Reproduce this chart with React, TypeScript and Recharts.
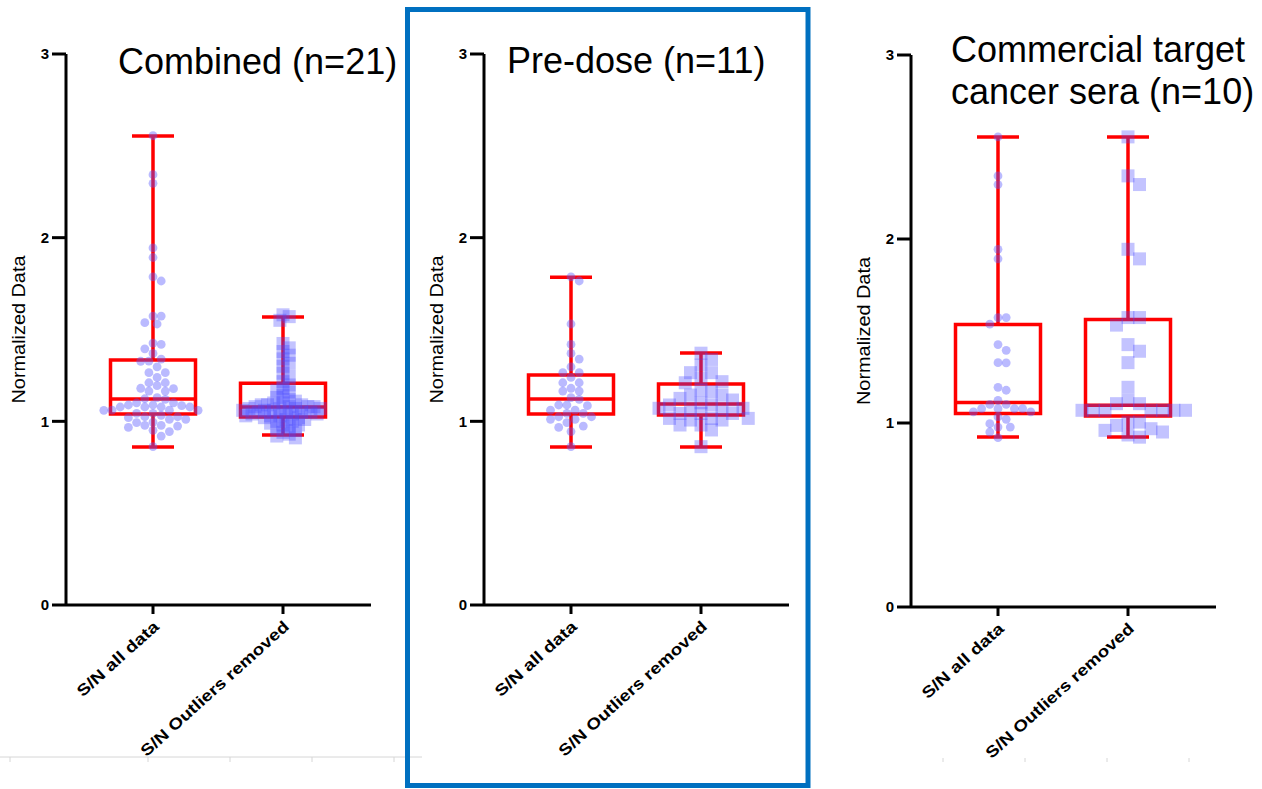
import React from 'react';
import { ScatterChart, Scatter, XAxis, YAxis, ReferenceArea, ReferenceLine } from 'recharts';

// ---------- data ----------
const categories = ['S/N all data', 'S/N Outliers removed'];
const categoryPositions = [1, 2];
const yTicks = [0, 1, 2, 3];
const yAxisTitle = 'Normalized Data';

const preDoseAllData = [
  1.787, 1.764, 1.53, 1.419, 1.37, 1.339, 1.297, 1.265, 1.265, 1.239, 1.21, 1.21, 1.18, 1.165, 1.165,
  1.129, 1.12, 1.089, 1.089, 1.085, 1.061, 1.061, 1.043, 1.043, 1.025, 1.025, 1.011, 1.011, 0.993,
  0.974, 0.967, 0.944, 0.862,
];
const preDoseOutliersRemoved = [
  1.371, 1.337, 1.306, 1.265, 1.265, 1.234, 1.216, 1.21, 1.17, 1.161, 1.143, 1.143, 1.125, 1.116,
  1.101, 1.089, 1.089, 1.071, 1.071, 1.071, 1.071, 1.043, 1.043, 1.043, 1.016, 1.016, 1.016, 1.007,
  1.007, 0.98, 0.98, 0.953, 0.862,
];
const commercialAllData = [
  2.555, 2.343, 2.296, 1.944, 1.892, 1.573, 1.573, 1.537, 1.426, 1.395, 1.328, 1.327, 1.194, 1.178,
  1.123, 1.101, 1.101, 1.078, 1.078, 1.078, 1.078, 1.06, 1.06, 1.033, 1.02, 0.996, 0.978, 0.978,
  0.951, 0.92,
];
const commercialOutliersRemoved = [
  2.555, 2.343, 2.296, 1.944, 1.892, 1.573, 1.573, 1.532, 1.426, 1.39, 1.328, 1.194, 1.123, 1.105,
  1.105, 1.069, 1.069, 1.069, 1.069, 1.069, 1.069, 1.069, 1.005, 1.005, 0.987, 0.969, 0.96, 0.951,
  0.935, 0.923,
];
const combinedAllData = [...preDoseAllData, ...commercialAllData];
const combinedOutliersRemoved = [
  1.58, 1.57, 1.55, 1.424, 1.4, 1.38, 1.36, 1.34, 1.316, 1.3, 1.262, 1.245, 1.216, 1.198, 1.18, 1.17,
  1.16, 1.14, 1.13, 1.12, 1.11, 1.1, 1.1, 1.09, 1.09, 1.09, 1.08, 1.08, 1.08, 1.08, 1.07, 1.07, 1.07,
  1.07, 1.06, 1.06, 1.06, 1.05, 1.05, 1.05, 1.05, 1.04, 1.04, 1.04, 1.03, 1.03, 1.03, 1.02, 1.02,
  1.01, 1.01, 1.0, 1.0, 0.99, 0.98, 0.98, 0.97, 0.96, 0.95, 0.94, 0.93, 0.92, 0.91,
];

// box statistics: [min, q1, median, q3, max]
const combinedStatsAll = [0.86, 1.04, 1.121, 1.334, 2.553];
const combinedStatsRemoved = [0.925, 1.023, 1.078, 1.208, 1.568];
const preDoseStatsAll = [0.86, 1.04, 1.121, 1.252, 1.785];
const preDoseStatsRemoved = [0.86, 1.034, 1.094, 1.203, 1.372];
const commercialStatsAll = [0.924, 1.051, 1.111, 1.535, 2.555];
const commercialStatsRemoved = [0.924, 1.038, 1.096, 1.562, 2.555];

const combinedTitle = ['Combined (n=21)'];
const preDoseTitle = ['Pre-dose (n=11)'];
const commercialTitle = ['Commercial target', 'cancer sera (n=10)'];

// ---------- layout / style ----------
const FONT = '"Liberation Sans", Arial, Helvetica, sans-serif';
const RED = '#ff0000';
const CHART_W = 420;
const CHART_H = 789;
const Y_AXIS_W = 66;
const PLOT_W = 305;
const PX_PER_CAT = 130;
const X_DOMAIN = [1 - 87 / PX_PER_CAT, 2 + 88 / PX_PER_CAT];
const BOX_HALF = 42.5 / PX_PER_CAT;
const CAP_HALF = 21 / PX_PER_CAT;

function swarm(values: number[], center: number, dist: number, step: number, pxY: number) {
  const sorted = [...values].sort((a, b) => b - a);
  const placed: { ox: number; py: number }[] = [];
  const out: { x: number; y: number }[] = [];
  for (const v of sorted) {
    const py = v * pxY;
    let chosen = 0;
    for (let k = 0; k < 80; k++) {
      const off = k === 0 ? 0 : (k % 2 === 1 ? 1 : -1) * Math.ceil(k / 2) * step;
      const ok = placed.every((p) => Math.hypot(p.ox - off, p.py - py) >= dist - 1e-6);
      if (ok) {
        chosen = off;
        break;
      }
    }
    placed.push({ ox: chosen, py });
    out.push({ x: center + chosen / PX_PER_CAT, y: v });
  }
  return out;
}

const CircleShape = (props: any) => {
  const { cx, cy } = props;
  if (cx == null || cy == null) return null;
  return <circle cx={cx} cy={cy} r={4.4} fill="#5a5aff" fillOpacity={0.42} />;
};

const makeSquareShape = (size: number) => (props: any) => {
  const { cx, cy } = props;
  if (cx == null || cy == null) return null;
  return <rect x={cx - size / 2} y={cy - size / 2} width={size} height={size} fill="#4848ff" fillOpacity={0.33} />;
};

const CategoryTick = (props: any) => {
  const { x, y, payload } = props;
  const idx = categoryPositions.indexOf(payload.value);
  const label = categories[idx] ?? '';
  const len = idx === 0 ? 104 : 193;
  return (
    <g transform={`translate(${x + 7},${y + 12})`}>
      <text
        x={0}
        y={0}
        transform="rotate(-42)"
        textAnchor="end"
        style={{ fontSize: '16px', fontWeight: 700, fontFamily: FONT }}
        fill="#000"
        textLength={len}
        lengthAdjust="spacingAndGlyphs"
      >
        {label}
      </text>
    </g>
  );
};

const ValueTick = (props: any) => {
  const { x, y, payload } = props;
  return (
    <text
      x={x - 1}
      y={y}
      dy="0.36em"
      textAnchor="end"
      style={{ fontSize: '15px', fontWeight: 700, fontFamily: FONT }}
      fill="#000"
    >
      {payload.value}
    </text>
  );
};

function BoxElements(center: number, stats: number[], key: string) {
  const [mn, q1, med, q3, mx] = stats;
  const common = { stroke: RED, strokeWidth: 3.5, ifOverflow: 'visible' as const };
  return [
    <ReferenceLine key={key + 'wt'} segment={[{ x: center, y: q3 }, { x: center, y: mx }]} {...common} />,
    <ReferenceLine key={key + 'wb'} segment={[{ x: center, y: mn }, { x: center, y: q1 }]} {...common} />,
    <ReferenceLine key={key + 'ct'} segment={[{ x: center - CAP_HALF, y: mx }, { x: center + CAP_HALF, y: mx }]} {...common} />,
    <ReferenceLine key={key + 'cb'} segment={[{ x: center - CAP_HALF, y: mn }, { x: center + CAP_HALF, y: mn }]} {...common} />,
    <ReferenceArea
      key={key + 'box'}
      x1={center - BOX_HALF}
      x2={center + BOX_HALF}
      y1={q1}
      y2={q3}
      stroke={RED}
      strokeWidth={3.5}
      fill="none"
      fillOpacity={0}
      ifOverflow="visible"
    />,
    <ReferenceLine key={key + 'md'} segment={[{ x: center - BOX_HALF, y: med }, { x: center + BOX_HALF, y: med }]} {...common} />,
  ];
}

type PanelProps = {
  left: number;
  plotTop: number;
  plotBottom: number;
  all: number[];
  removed: number[];
  statsAll: number[];
  statsRemoved: number[];
  squareDist: number;
  squareSize: number;
};

function Panel({ left, plotTop, plotBottom, all, removed, statsAll, statsRemoved, squareDist, squareSize }: PanelProps) {
  const pxPerY = (plotBottom - plotTop) / 3;
  const circles = swarm(all, 1, 8.2, 4.1, pxPerY);
  const squares = swarm(removed, 2, squareDist, squareDist / 2, pxPerY);
  const SquareShape = makeSquareShape(squareSize);
  const midY = (plotTop + plotBottom) / 2;
  const yLabel = () => (
    <text
      x={19}
      y={midY}
      transform={`rotate(-90, 19, ${midY})`}
      textAnchor="middle"
      dominantBaseline="central"
      style={{ fontSize: '17.5px', fontFamily: FONT }}
      fill="#000"
      textLength={148}
      lengthAdjust="spacingAndGlyphs"
    >
      {yAxisTitle}
    </text>
  );
  return (
    <div style={{ position: 'absolute', left, top: 0 }}>
      <ScatterChart
        width={CHART_W}
        height={CHART_H}
        margin={{ top: plotTop, right: CHART_W - Y_AXIS_W - PLOT_W, bottom: 0, left: 0 }}
      >
        <XAxis
          type="number"
          dataKey="x"
          domain={X_DOMAIN}
          allowDataOverflow
          ticks={categoryPositions}
          interval={0}
          height={CHART_H - plotBottom}
          axisLine={{ stroke: '#000', strokeWidth: 3 }}
          tickLine={{ stroke: '#000', strokeWidth: 3 }}
          tickSize={9}
          tick={<CategoryTick />}
        />
        <YAxis
          type="number"
          dataKey="y"
          domain={[0, 3]}
          allowDataOverflow
          ticks={yTicks}
          interval={0}
          width={Y_AXIS_W}
          axisLine={{ stroke: '#000', strokeWidth: 3 }}
          tickLine={{ stroke: '#000', strokeWidth: 3 }}
          tickSize={14}
          tick={<ValueTick />}
          label={yLabel}
        />
        {BoxElements(1, statsAll, 'a')}
        {BoxElements(2, statsRemoved, 'b')}
        <Scatter data={circles} shape={CircleShape} isAnimationActive={false} />
        <Scatter data={squares} shape={SquareShape} isAnimationActive={false} />
      </ScatterChart>
    </div>
  );
}

export default function App() {
  const titleStyle = { fontSize: 36, fill: '#000', fontFamily: FONT } as const;
  return (
    <div style={{ position: 'absolute', left: 0, top: 0, width: 1262, height: 789, background: '#fff', fontFamily: FONT, overflow: 'hidden' }}>
      <Panel
        left={0}
        plotTop={54}
        plotBottom={605}
        all={combinedAllData}
        removed={combinedOutliersRemoved}
        statsAll={combinedStatsAll}
        statsRemoved={combinedStatsRemoved}
        squareDist={6.2}
        squareSize={13}
      />
      <Panel
        left={418}
        plotTop={54}
        plotBottom={605}
        all={preDoseAllData}
        removed={preDoseOutliersRemoved}
        statsAll={preDoseStatsAll}
        statsRemoved={preDoseStatsRemoved}
        squareDist={10.5}
        squareSize={13}
      />
      <Panel
        left={845}
        plotTop={55}
        plotBottom={607}
        all={commercialAllData}
        removed={commercialOutliersRemoved}
        statsAll={commercialStatsAll}
        statsRemoved={commercialStatsRemoved}
        squareDist={11.5}
        squareSize={13}
      />
      <svg width={1262} height={789} style={{ position: 'absolute', left: 0, top: 0, pointerEvents: 'none' }}>
        {/* slide artifacts */}
        <line x1={0} y1={757} x2={422} y2={757} stroke="#d6d6d6" strokeWidth={1} />
        {[10, 148, 230, 312, 394].map((x) => (
          <line key={'a' + x} x1={x} y1={757} x2={x} y2={762} stroke="#d6d6d6" strokeWidth={1} />
        ))}
        {[943, 1025, 1107, 1189].map((x) => (
          <line key={'b' + x} x1={x} y1={758} x2={x} y2={762} stroke="#d6d6d6" strokeWidth={1} />
        ))}
        {/* titles */}
        <text x={118} y={74} {...titleStyle}>{combinedTitle[0]}</text>
        <text x={507} y={73} {...titleStyle}>{preDoseTitle[0]}</text>
        <text x={951} y={62} {...titleStyle}>{commercialTitle[0]}</text>
        <text x={951} y={104} {...titleStyle}>{commercialTitle[1]}</text>
        {/* highlight frame */}
        <rect x={407.5} y={9.5} width={400.5} height={776} fill="none" stroke="#0070c0" strokeWidth={5} />
      </svg>
    </div>
  );
}
